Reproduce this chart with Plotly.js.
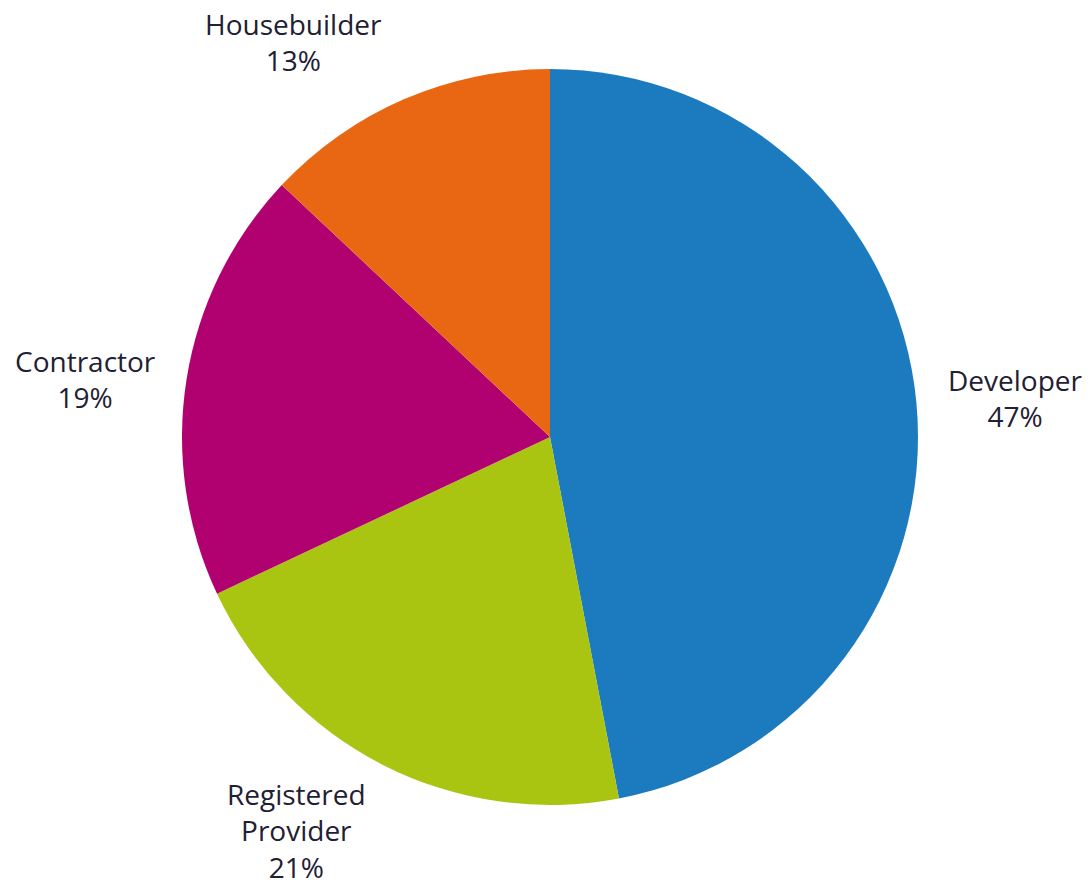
<!DOCTYPE html>
<html>
<head>
<meta charset="utf-8">
<script src="https://cdn.plot.ly/plotly-3.0.1.min.js"></script>
<style>html,body{margin:0;padding:0;background:#fff;}#chart{width:1089px;height:885px;}</style>
</head>
<body>
<div id="chart"></div>
<script>
// Data
const categories = ["Developer", "Registered<br>Provider", "Contractor", "Housebuilder"];
const shares = [47, 21, 19, 13];
const colors = ["#1B7BBE", "#AAC412", "#B10070", "#E96612"];

// Layout-only label positions (pixel centres of each label block)
const labelPx = [[1015, 398], [296, 830], [85, 379], [293, 42]];

const W = 1089, H = 885;
const cx = 550, cy = 437, R = 368;

const trace = {
  type: "pie",
  values: shares,
  labels: categories,
  sort: false,
  direction: "clockwise",
  rotation: 0,
  textinfo: "none",
  hoverinfo: "label+percent",
  marker: {colors: colors, line: {width: 0}},
  showlegend: false,
  domain: {
    x: [(cx - R) / W, (cx + R) / W],
    y: [(H - cy - R) / H, (H - cy + R) / H]
  }
};

const total = shares.reduce((a, b) => a + b, 0);
const annotations = categories.map((c, i) => ({
  xref: "paper", yref: "paper",
  x: labelPx[i][0] / W,
  y: 1 - labelPx[i][1] / H,
  xanchor: "center", yanchor: "middle",
  text: c + "<br>" + Math.round(shares[i] / total * 100) + "%",
  showarrow: false,
  font: {family: "Open Sans", size: 28, color: "#1F2033"}
}));

const layout = {
  width: W, height: H,
  margin: {l: 0, r: 0, t: 0, b: 0},
  paper_bgcolor: "#ffffff",
  plot_bgcolor: "#ffffff",
  annotations: annotations
};

Plotly.newPlot("chart", [trace], layout, {displayModeBar: false, staticPlot: true});
</script>
</body>
</html>
